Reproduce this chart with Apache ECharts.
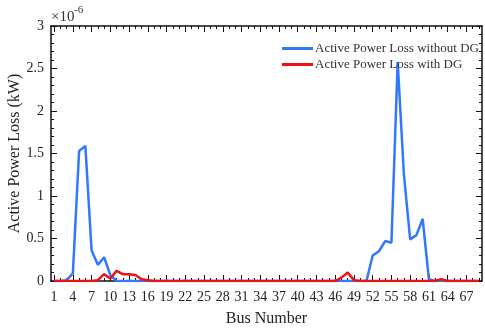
<!DOCTYPE html>
<html>
<head>
<meta charset="utf-8">
<script src="https://cdn.jsdelivr.net/npm/echarts@6/dist/echarts.min.js"></script>
<style>html,body{margin:0;padding:0;background:#fff;}#c{width:485px;height:328px;}</style>
</head>
<body>
<div id="c"></div>
<script>
// Bus numbers 1..69
const buses = ["1","2","3","4","5","6","7","8","9","10","11","12","13","14","15","16","17","18","19","20","21","22","23","24","25","26","27","28","29","30","31","32","33","34","35","36","37","38","39","40","41","42","43","44","45","46","47","48","49","50","51","52","53","54","55","56","57","58","59","60","61","62","63","64","65","66","67","68","69"];
// Active power loss (x1e-6 kW)
const lossWithoutDG = [0,0,0.01,0.09,1.53,1.59,0.36,0.19,0.28,0.07,0,0,0,0,0,0,0,0,0,0,0,0,0,0,0,0,0,0,0,0,0,0,0,0,0,0,0,0,0,0,0,0,0,0,0,0,0,0,0,0,0,0.30,0.35,0.47,0.45,2.58,1.25,0.49,0.54,0.73,0.02,0,0,0,0,0,0,0,0];
const lossWithDG = [0,0,0,0,0,0,0,0.01,0.08,0.03,0.12,0.08,0.08,0.07,0.02,0.01,0,0,0,0,0,0,0,0,0,0,0,0,0,0,0,0,0,0,0,0,0,0,0,0,0,0,0,0,0,0,0.04,0.10,0.01,0,0,0,0,0,0,0,0,0,0,0,0,0,0.02,0,0,0,0,0,0];
const yTicks = [0, 0.5, 1, 1.5, 2, 2.5, 3];

const FONT = 'Liberation Serif';
const chart = echarts.init(document.getElementById('c'), null, {renderer: 'canvas'});
const axisLine = {show: true, lineStyle: {color: '#111', width: 1.5}};
const mkX = (pos, major, withLabel) => ({
  type: 'category', data: buses, position: pos, boundaryGap: true,
  axisLine: major ? axisLine : {show: false},
  axisTick: {show: true, inside: true, alignWithLabel: true, interval: major ? 2 : 0, length: major ? 6 : 3, lineStyle: {color: '#111', width: 1}},
  axisLabel: withLabel ? {show: true, interval: 2, fontFamily: FONT, fontSize: 14, color: '#222', margin: 9} : {show: false},
  name: withLabel ? 'Bus Number' : '', nameLocation: 'middle', nameGap: 30, nameMoveOverlap: false,
  nameTextStyle: {fontFamily: FONT, fontSize: 16, color: '#222'},
  splitLine: {show: false}
});
const mkY = (pos, withLabel) => ({
  type: 'value', position: pos, min: yTicks[0], max: yTicks[yTicks.length - 1], interval: 0.5,
  axisLine: axisLine,
  axisTick: {show: true, inside: true, length: 6, lineStyle: {color: '#111', width: 1}},
  minorTick: {show: true, splitNumber: 5, length: 3, lineStyle: {color: '#111', width: 1}},
  axisLabel: withLabel ? {show: true, fontFamily: FONT, fontSize: 14, color: '#222', margin: 7} : {show: false},
  name: withLabel ? 'Active Power Loss (kW)' : '', nameLocation: 'middle', nameRotate: 90, nameGap: 28, nameMoveOverlap: false,
  nameTextStyle: {fontFamily: FONT, fontSize: 16, color: '#222'},
  splitLine: {show: false}, minorSplitLine: {show: false}
});
chart.setOption({
  backgroundColor: '#fff',
  animation: false,
  grid: {left: 51, right: 3, top: 26, bottom: 47, containLabel: false, outerBoundsMode: 'none'},
  xAxis: [mkX('bottom', true, true), mkX('bottom', false, false), mkX('top', true, false), mkX('top', false, false)],
  yAxis: [mkY('left', true), mkY('right', false)],
  legend: {
    orient: 'vertical', left: 277, top: 37, itemWidth: 31, itemHeight: 3, itemGap: 3,
    textStyle: {fontFamily: FONT, fontSize: 13, color: '#333', padding: [0,0,0,-3]},
    data: [{name: 'Active Power Loss without DG', icon: 'rect'}, {name: 'Active Power Loss with DG', icon: 'rect'}]
  },
  graphic: [
    {type: 'text', left: 51, top: 10, style: {text: '×10', font: '15px "Liberation Serif"', fill: '#333'}},
    {type: 'text', left: 74, top: 5, style: {text: '-6', font: '11px "Liberation Serif"', fill: '#333'}}
  ],
  series: [
    {name: 'Active Power Loss without DG', type: 'line', xAxisIndex: 0, yAxisIndex: 0, data: lossWithoutDG,
     symbol: 'none', lineStyle: {color: '#3377ff', width: 2.5}, itemStyle: {color: '#3377ff'}, z: 2},
    {name: 'Active Power Loss with DG', type: 'line', xAxisIndex: 0, yAxisIndex: 0, data: lossWithDG,
     symbol: 'none', lineStyle: {color: '#ee1111', width: 2.5}, itemStyle: {color: '#ee1111'}, z: 3}
  ]
});
</script>
</body>
</html>
